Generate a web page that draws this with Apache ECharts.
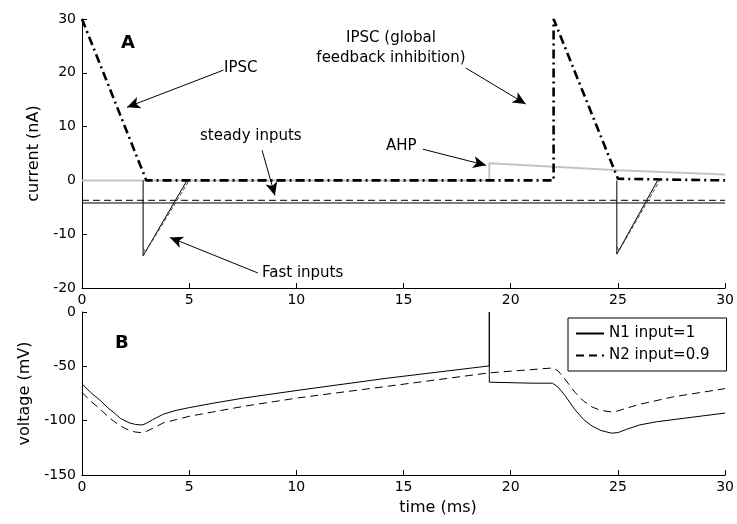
<!DOCTYPE html>
<html>
<head>
<meta charset="utf-8">
<script src="https://cdn.jsdelivr.net/npm/echarts@6/dist/echarts.min.js"></script>
<style>
  html, body { margin: 0; padding: 0; background: #fff; }
  #chart { width: 737px; height: 524px; }
</style>
</head>
<body>
<div id="chart"></div>
<script>
// panel A: currents (nA) vs time (ms)
const ipscT = [0, 3, 22, 22, 25, 30];
const ipscI = [30, 0, 0, 30, 0.3, 0];
const ahpT = [0, 19, 19, 25, 30];
const ahpI = [0, 0, 3.2, 1.9, 1.1];
const steadyT = [0, 30];
const steadyN1 = [-4.2, -4.2];
const steadyN2 = [-3.7, -3.7];
const fastT1 = [2.85, 2.85, 4.9, null, 24.95, 24.95, 26.85];
const fastN1 = [0, -14, 0, null, 0, -13.7, 0];
const fastT2 = [2.85, 2.95, 5.0, null, 24.95, 25.05, 26.95];
const fastN2 = [-12.5, -13.4, 0, null, -12.3, -13.1, 0];

// panel B: membrane voltage (mV) vs time (ms)
const vT1 = [0, 0.4, 0.83, 1.2, 1.45, 1.8, 2.2, 2.5, 2.8, 3.0, 3.3, 3.8, 4.4, 5, 6.1, 7.6, 10.1, 14.2, 19, 19, 19, 21, 21.95, 22.2, 22.5, 23.0, 23.4, 23.8, 24.2, 24.7, 25.0, 25.4, 26.0, 26.8, 28, 30];
const vN1 = [-66, -74, -81, -88, -92, -98, -102, -103.5, -104, -102.5, -99, -94, -90.5, -88, -84, -79, -72, -61, -49.6, 0, -64.6, -65.5, -65.5, -69, -76, -90, -99, -105, -109, -111.5, -111, -108, -104, -101, -98, -93];
const vT2 = [0, 0.4, 0.83, 1.2, 1.45, 1.8, 2.2, 2.5, 2.8, 3.0, 3.3, 3.8, 4.4, 5, 6.1, 7.6, 10.1, 14.2, 19, 21.95, 22.2, 22.5, 23.0, 23.4, 23.8, 24.2, 24.7, 25.0, 25.4, 26.0, 27.6, 30];
const vN2 = [-74, -82, -89, -96, -100, -105, -109, -110.5, -111, -110, -107, -102, -99, -96, -92, -86.6, -79, -68.5, -56, -51.5, -54, -61, -74, -82, -87.5, -90.5, -92, -91, -88.5, -85, -78, -70.5];

// annotation arrows, [from, to] in panel A data coords
const arrows = [
  [[6.6, 20.5], [2.1, 13.6]],
  [[8.4, 5.6], [9.0, -2.8]],
  [[8.2, -17.2], [4.1, -10.6]],
  [[15.9, 5.8], [18.85, 2.8]],
  [[17.9, 20.9], [20.7, 14.2]]
];

const zip = (t, v) => t.map((x, i) => (x === null ? [null, null] : [x, v[i]]));

const FONT = 'DejaVu Sans';
const chart = echarts.init(document.getElementById('chart'));

function axisX(idx) {
  return {
    type: 'value', gridIndex: idx, min: 0, max: 30, interval: 5,
    axisLine: { onZero: false, lineStyle: { color: '#000', width: 1 } },
    axisTick: { inside: true, length: 5, lineStyle: { color: '#000' } },
    axisLabel: { color: '#000', fontFamily: FONT, fontSize: 14, margin: 5 },
    splitLine: { show: false }
  };
}
function axisY(idx, min, max, interval, name, gap) {
  return {
    type: 'value', gridIndex: idx, min: min, max: max, interval: interval,
    name: name, nameLocation: 'middle', nameGap: gap,
    nameTextStyle: { color: '#000', fontFamily: FONT, fontSize: 16 },
    axisLine: { show: true, onZero: false, lineStyle: { color: '#000', width: 1 } },
    axisTick: { inside: true, length: 5, lineStyle: { color: '#000' } },
    axisLabel: { color: '#000', fontFamily: FONT, fontSize: 14, margin: 6 },
    splitLine: { show: false }
  };
}

function line(name, xi, data, color, width, type) {
  return {
    name: name, type: 'line', xAxisIndex: xi, yAxisIndex: xi,
    data: data, symbol: 'none', connectNulls: false, animation: false,
    lineStyle: { color: color, width: width, type: type },
    itemStyle: { color: color }
  };
}

const textStyle = { fontFamily: FONT, fontSize: 15, fill: '#000' };

chart.setOption({
  animation: false,
  grid: [
    { left: 82, top: 19, width: 649, height: 269 },
    { left: 82, top: 312, width: 649, height: 163 }
  ],
  xAxis: [axisX(0), axisX(1)],
  yAxis: [
    axisY(0, -20, 30, 10, 'current (nA)', 40),
    axisY(1, -150, 0, 50, 'voltage (mV)', 48)
  ],
  legend: {
    data: ['N1 input=1', 'N2 input=0.9'],
    orient: 'vertical', left: 568, top: 318,
    padding: [8, 17, 8, 7], itemGap: 7,
    itemWidth: 28, itemHeight: 10,
    itemStyle: { opacity: 0 },
    borderColor: '#000', borderWidth: 1,
    backgroundColor: '#fff',
    textStyle: { color: '#000', fontFamily: FONT, fontSize: 15 }
  },
  series: [
    line('AHP', 0, zip(ahpT, ahpI), '#c4c4c4', 2, 'solid'),
    line('steady N2', 0, zip(steadyT, steadyN2), '#000', 1, [7, 4]),
    line('steady N1', 0, zip(steadyT, steadyN1), '#000', 1, 'solid'),
    line('fast N1', 0, zip(fastT1, fastN1), '#000', 1, 'solid'),
    line('fast N2', 0, zip(fastT2, fastN2), '#444', 1, [4, 2]),
    Object.assign(line('IPSC', 0, zip(ipscT, ipscI), '#000', 2.6, [9, 4, 2, 4]), {
      markLine: {
        silent: true, animation: false,
        symbol: ['none', 'arrow'], symbolSize: [9, 13],
        label: { show: false },
        lineStyle: { color: '#000', width: 1, type: 'solid' },
        data: arrows.map(a => [{ coord: a[0] }, { coord: a[1] }])
      }
    }),
    line('N1 input=1', 1, zip(vT1, vN1), '#000', 1, 'solid'),
    line('N2 input=0.9', 1, zip(vT2, vN2), '#000', 1, [8, 5])
  ],
  graphic: [
    { type: 'text', left: 121, top: 34, style: { text: 'A', font: 'bold 18px ' + FONT, fill: '#000' } },
    { type: 'text', left: 115, top: 334, style: { text: 'B', font: 'bold 18px ' + FONT, fill: '#000' } },
    { type: 'text', left: 224, top: 61, style: Object.assign({ text: 'IPSC' }, textStyle) },
    { type: 'text', left: 200, top: 129, style: Object.assign({ text: 'steady inputs' }, textStyle) },
    { type: 'text', left: 262, top: 266, style: Object.assign({ text: 'Fast inputs' }, textStyle) },
    { type: 'text', left: 386, top: 139, style: Object.assign({ text: 'AHP' }, textStyle) },
    { type: 'text', x: 391, y: 38, style: Object.assign({ text: 'IPSC (global', textAlign: 'center', textVerticalAlign: 'middle' }, textStyle) },
    { type: 'text', x: 391, y: 58, style: Object.assign({ text: 'feedback inhibition)', textAlign: 'center', textVerticalAlign: 'middle' }, textStyle) },
    { type: 'text', x: 438, y: 508, style: Object.assign({ text: 'time (ms)', textAlign: 'center', textVerticalAlign: 'middle' }, textStyle, { fontSize: 16 }) }
  ]
});
</script>
</body>
</html>
